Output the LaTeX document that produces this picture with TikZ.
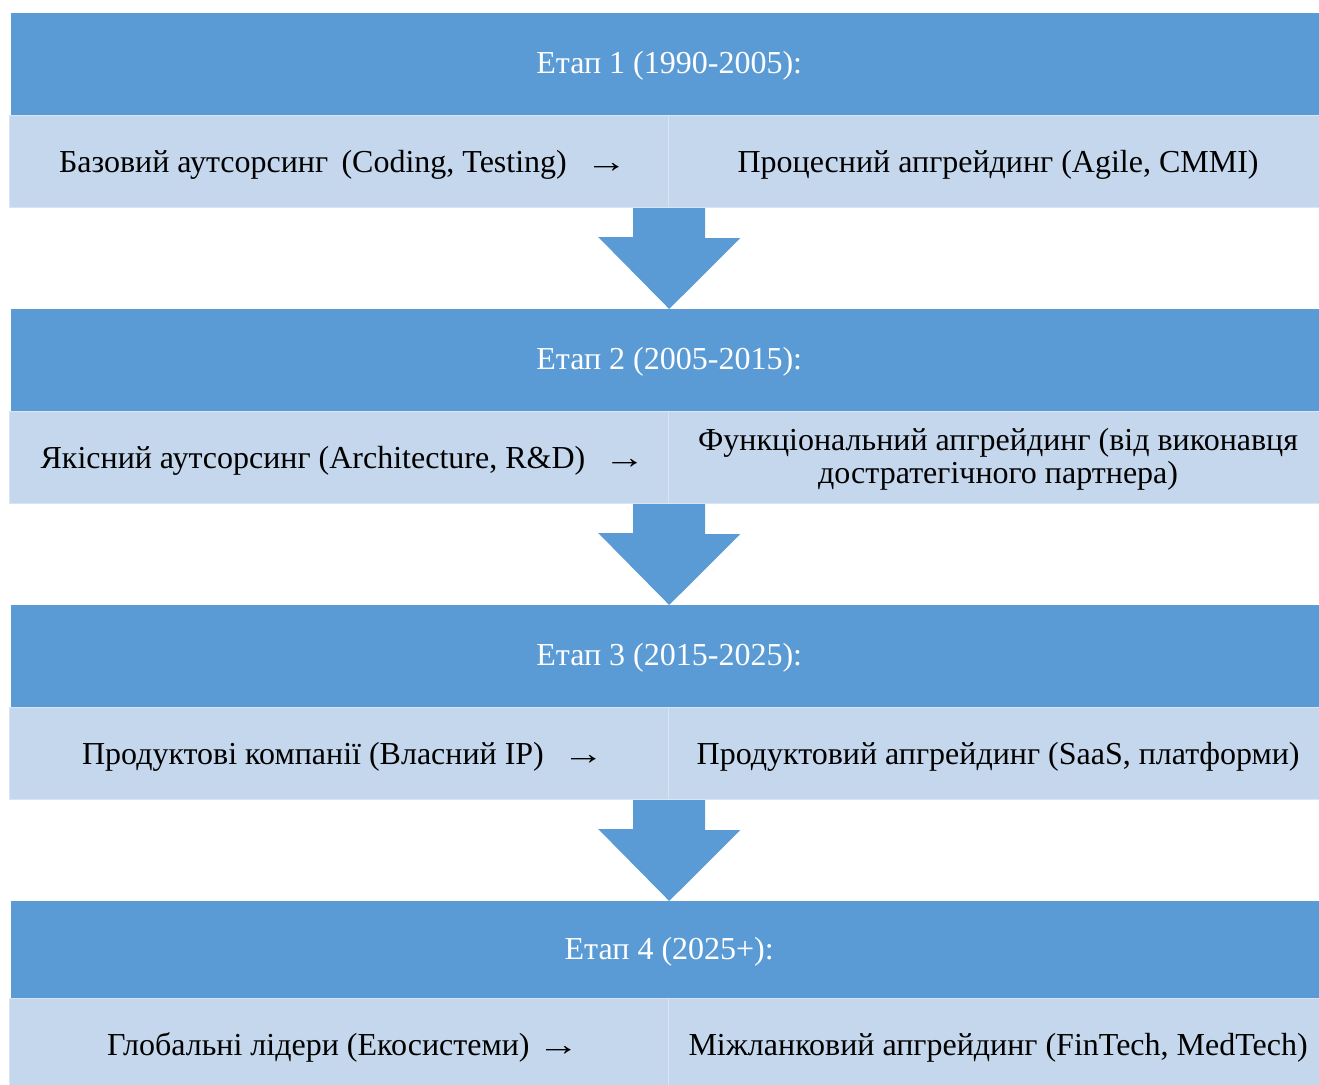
\documentclass[tikz,border=0pt]{standalone}
\usepackage{fontspec}
\setmainfont{Liberation Serif}
\usetikzlibrary{calc}
\definecolor{hdrblue}{HTML}{5B9BD5}
\definecolor{rowblue}{HTML}{C5D7EC}
\definecolor{rowline}{HTML}{D8E5F4}
\newcommand{\rarr}{\scalebox{1.3}[1]{→}}
% shift text a little right and down inside its box, keeping the box size
\newcommand{\dn}[2]{\hspace*{8pt}\raisebox{-#1}[\height][\depth]{#2}}
\tikzset{
  hdr/.style={fill=hdrblue, draw=none, minimum width=1308pt, minimum height=102pt, inner sep=0pt,
    text=white, font=\fontsize{32}{36}\selectfont, anchor=north west},
  cellL/.style={fill=rowblue, draw=rowline, line width=1.2pt, minimum width=659pt, minimum height=92pt,
    inner sep=0pt, font=\fontsize{32}{34}\selectfont, anchor=north west},
  cellR/.style={fill=rowblue, draw=rowline, line width=1.2pt, minimum width=651pt, minimum height=92pt,
    inner sep=0pt, font=\fontsize{32}{33}\selectfont, anchor=north west},
  blockarrow/.style={fill=hdrblue, draw=none}
}
\begin{document}
\begin{tikzpicture}[x=1pt,y=-1pt]
\useasboundingbox (0,0) rectangle (1319,1084);
% Stage 1
\node[hdr] (h1) at (11,13) {\dn{2pt}{Етап 1 (1990-2005):}};
\node[cellL] (r1l) at (9,115) {\dn{3pt}{Базовий аутсорсинг\, (Coding, Testing)\, \,\rarr}};
\node[cellR] (r1r) at (668,115) {\dn{3pt}{Процесний апгрейдинг (Agile, CMMI)}};
% Stage 2
\node[hdr] (h2) at (11,309) {\dn{2pt}{Етап 2 (2005-2015):}};
\node[cellL] (r2l) at (9,411) {\dn{3pt}{Якісний аутсорсинг (Architecture, R\&D)\, \,\rarr}};
\node[cellR] (r2r) at (668,411) {\dn{3pt}{\begin{tabular}{@{}c@{}}Функціональний апгрейдинг (від виконавця\\достратегічного партнера)\end{tabular}}};
% Stage 3
\node[hdr] (h3) at (11,605) {\dn{2pt}{Етап 3 (2015-2025):}};
\node[cellL] (r3l) at (9,707) {\dn{3pt}{Продуктові компанії (Власний IP)\, \,\rarr}};
\node[cellR] (r3r) at (668,707) {\dn{3pt}{Продуктовий апгрейдинг (SaaS, платформи)}};
% Stage 4
\node[hdr, minimum height=97pt] (h4) at (11,901) {\dn{2pt}{Етап 4 (2025+):}};
\node[cellL] (r4l) at (9,998) {\dn{3pt}{Глобальні лідери (Екосистеми) \rarr}};
\node[cellR] (r4r) at (668,998) {\dn{3pt}{Міжланковий апгрейдинг (FinTech, MedTech)}};
% Block arrows
\foreach \a/\b in {r1l/h2, r2l/h3, r3l/h4}{
  \fill[blockarrow] ([xshift=-36pt]\a.south east) -- ([xshift=36pt]\a.south east) -- ++(0,30)
    -- ++(35,0) -- (\a.south east |- \b.north) -- ++(-71,-72) -- ++(35,0) -- cycle;
}
\end{tikzpicture}
\end{document}
